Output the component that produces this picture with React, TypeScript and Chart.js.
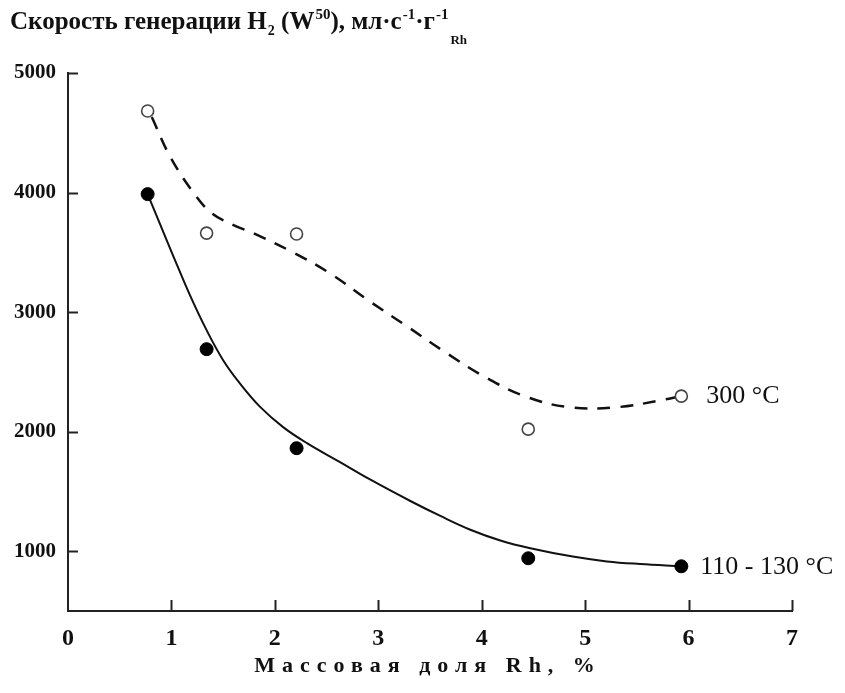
import React, { useEffect, useRef } from "react";
import { Chart, registerables } from "chart.js";

Chart.register(...registerables);

// Measured data points (mass fraction Rh, %)
const xValues = [0.77, 1.34, 2.21, 4.45, 5.93];
const open300 = [4682, 3661, 3653, 2021, 2297];
const filled110 = [3987, 2690, 1862, 941, 874];

// Fitted curves
const dashX = [0.81, 0.99, 1.23, 1.39, 1.6, 1.79, 2.17, 2.53, 2.9, 3.29, 3.66, 4.05, 4.44, 4.85, 5.31, 5.74, 5.92];
const dashY = [4632, 4297, 3979, 3828, 3728, 3661, 3502, 3326, 3100, 2874, 2657, 2448, 2289, 2205, 2205, 2264, 2297];

const solidX = [0.77, 0.89, 1.02, 1.18, 1.34, 1.5, 1.66, 1.86, 2.08, 2.31, 2.63, 2.92, 3.31, 3.6, 3.89, 4.18, 4.47, 4.88, 5.21, 5.53, 5.93];
const solidY = [3987, 3735, 3465, 3140, 2849, 2598, 2406, 2205, 2038, 1904, 1745, 1600, 1420, 1295, 1180, 1090, 1025, 955, 915, 893, 874];

const yTicks = [1000, 2000, 3000, 4000, 5000];
const xTicks = [0, 1, 2, 3, 4, 5, 6, 7];
const seriesLabels = ["300 °C", "110 - 130 °C"];
const xTitle = "Массовая доля Rh, %";

const toPts = (xs: number[], ys: number[]) => xs.map((x, i) => ({ x, y: ys[i] }));

const extrasPlugin = {
  id: "extras",
  afterDraw(chart: any) {
    const ctx = chart.ctx;
    const xs = chart.scales.x;
    const ys = chart.scales.y;
    const area = chart.chartArea;
    ctx.save();
    ctx.strokeStyle = "#222";
    ctx.lineWidth = 2;
    // inward tick marks
    yTicks.forEach((v) => {
      const py = Math.round(ys.getPixelForValue(v)) + 0.5;
      ctx.beginPath();
      ctx.moveTo(area.left, py);
      ctx.lineTo(area.left + 10, py);
      ctx.stroke();
    });
    xTicks.forEach((v) => {
      if (v === 0) return;
      const px = Math.round(xs.getPixelForValue(v)) + 0.5;
      ctx.beginPath();
      ctx.moveTo(px, area.bottom);
      ctx.lineTo(px, area.bottom - 11);
      ctx.stroke();
    });
    // series labels
    ctx.fillStyle = "#111";
    ctx.font = "26px 'Liberation Serif'";
    ctx.textBaseline = "middle";
    ctx.textAlign = "left";
    const lx1 = xs.getPixelForValue(xValues[4]);
    ctx.fillText(seriesLabels[0], lx1 + 25, ys.getPixelForValue(open300[4]));
    ctx.fillText(seriesLabels[1], lx1 + 19, ys.getPixelForValue(filled110[4]) + 1);
    // x axis title with letter spacing
    ctx.font = "bold 22px 'Liberation Serif'";
    (ctx as any).letterSpacing = "7px";
    ctx.textAlign = "center";
    ctx.fillText(xTitle, 428, 666);
    ctx.restore();
  },
};

export default function App() {
  const ref = useRef<HTMLCanvasElement>(null);
  useEffect(() => {
    if (!ref.current) return;
    const chart = new Chart(ref.current, {
      type: "scatter",
      data: {
        datasets: [
          {
            label: "300 open",
            data: toPts(xValues, open300),
            showLine: false,
            pointRadius: 6,
            pointBackgroundColor: "#fff",
            pointBorderColor: "#444",
            pointBorderWidth: 1.6,
          },
          {
            label: "110 filled",
            data: toPts(xValues, filled110),
            showLine: false,
            pointRadius: 6.5,
            pointBackgroundColor: "#000",
            pointBorderColor: "#000",
            pointBorderWidth: 1,
          },
          {
            label: "300 curve",
            data: toPts(dashX, dashY),
            showLine: true,
            pointRadius: 0,
            borderColor: "#111",
            borderWidth: 2.5,
            borderDash: [13, 10],
            tension: 0.4,
          },
          {
            label: "110 curve",
            data: toPts(solidX, solidY),
            showLine: true,
            pointRadius: 0,
            borderColor: "#111",
            borderWidth: 2,
            tension: 0.4,
          },
        ],
      },
      options: {
        responsive: false,
        animation: false,
        devicePixelRatio: 1,
        layout: { padding: { top: 73, right: 53, left: 0, bottom: 0 } },
        plugins: { legend: { display: false }, tooltip: { enabled: false }, title: { display: false } },
        scales: {
          x: {
            type: "linear",
            min: 0,
            max: 7,
            afterFit: (s: any) => {
              s.height = 82;
            },
            afterBuildTicks: (s: any) => {
              s.ticks = xTicks.map((v) => ({ value: v }));
            },
            grid: { display: false, drawTicks: false },
            border: { display: true, color: "#222", width: 2 },
            ticks: {
              padding: 13,
              color: "#111",
              callback: (v: any) => String(v),
              font: { family: "'Liberation Serif'", size: 24, weight: "bold" },
            },
          },
          y: {
            type: "linear",
            min: 500,
            max: 5000,
            afterFit: (s: any) => {
              s.width = 68;
            },
            afterBuildTicks: (s: any) => {
              s.ticks = yTicks.map((v) => ({ value: v }));
            },
            grid: { display: false, drawTicks: false },
            border: { display: true, color: "#222", width: 2 },
            ticks: {
              padding: 12,
              color: "#111",
              callback: (v: any) => String(v),
              font: { family: "'Liberation Serif'", size: 21, weight: "bold" },
            },
          },
        },
      },
      plugins: [extrasPlugin],
    } as any);
    return () => chart.destroy();
  }, []);

  const supStyle: React.CSSProperties = { fontSize: "15px", verticalAlign: "10px", lineHeight: 0, marginLeft: 1 };
  const subStyle: React.CSSProperties = { fontSize: "14px", verticalAlign: "-6px", lineHeight: 0, marginLeft: 1 };
  return (
    <div style={{ position: "absolute", left: 0, top: 0, width: 845, height: 693, background: "#fff" }}>
      <canvas ref={ref} width={845} height={693} style={{ position: "absolute", left: 0, top: 0, width: 845, height: 693 }} />
      <div
        style={{
          position: "absolute",
          left: 10,
          top: 8,
          fontFamily: "'Liberation Serif'",
          fontWeight: "bold",
          fontSize: "25px",
          lineHeight: "26px",
          color: "#111",
          whiteSpace: "nowrap",
        }}
      >
        Скорость генерации H<span style={subStyle}>2</span> (W<span style={supStyle}>50</span>), мл·с
        <span style={supStyle}>-1</span>·г<span style={supStyle}>-1</span>
        <span style={{ fontSize: "13px", verticalAlign: "-15px", lineHeight: 0, marginLeft: 2 }}>Rh</span>
      </div>
    </div>
  );
}
